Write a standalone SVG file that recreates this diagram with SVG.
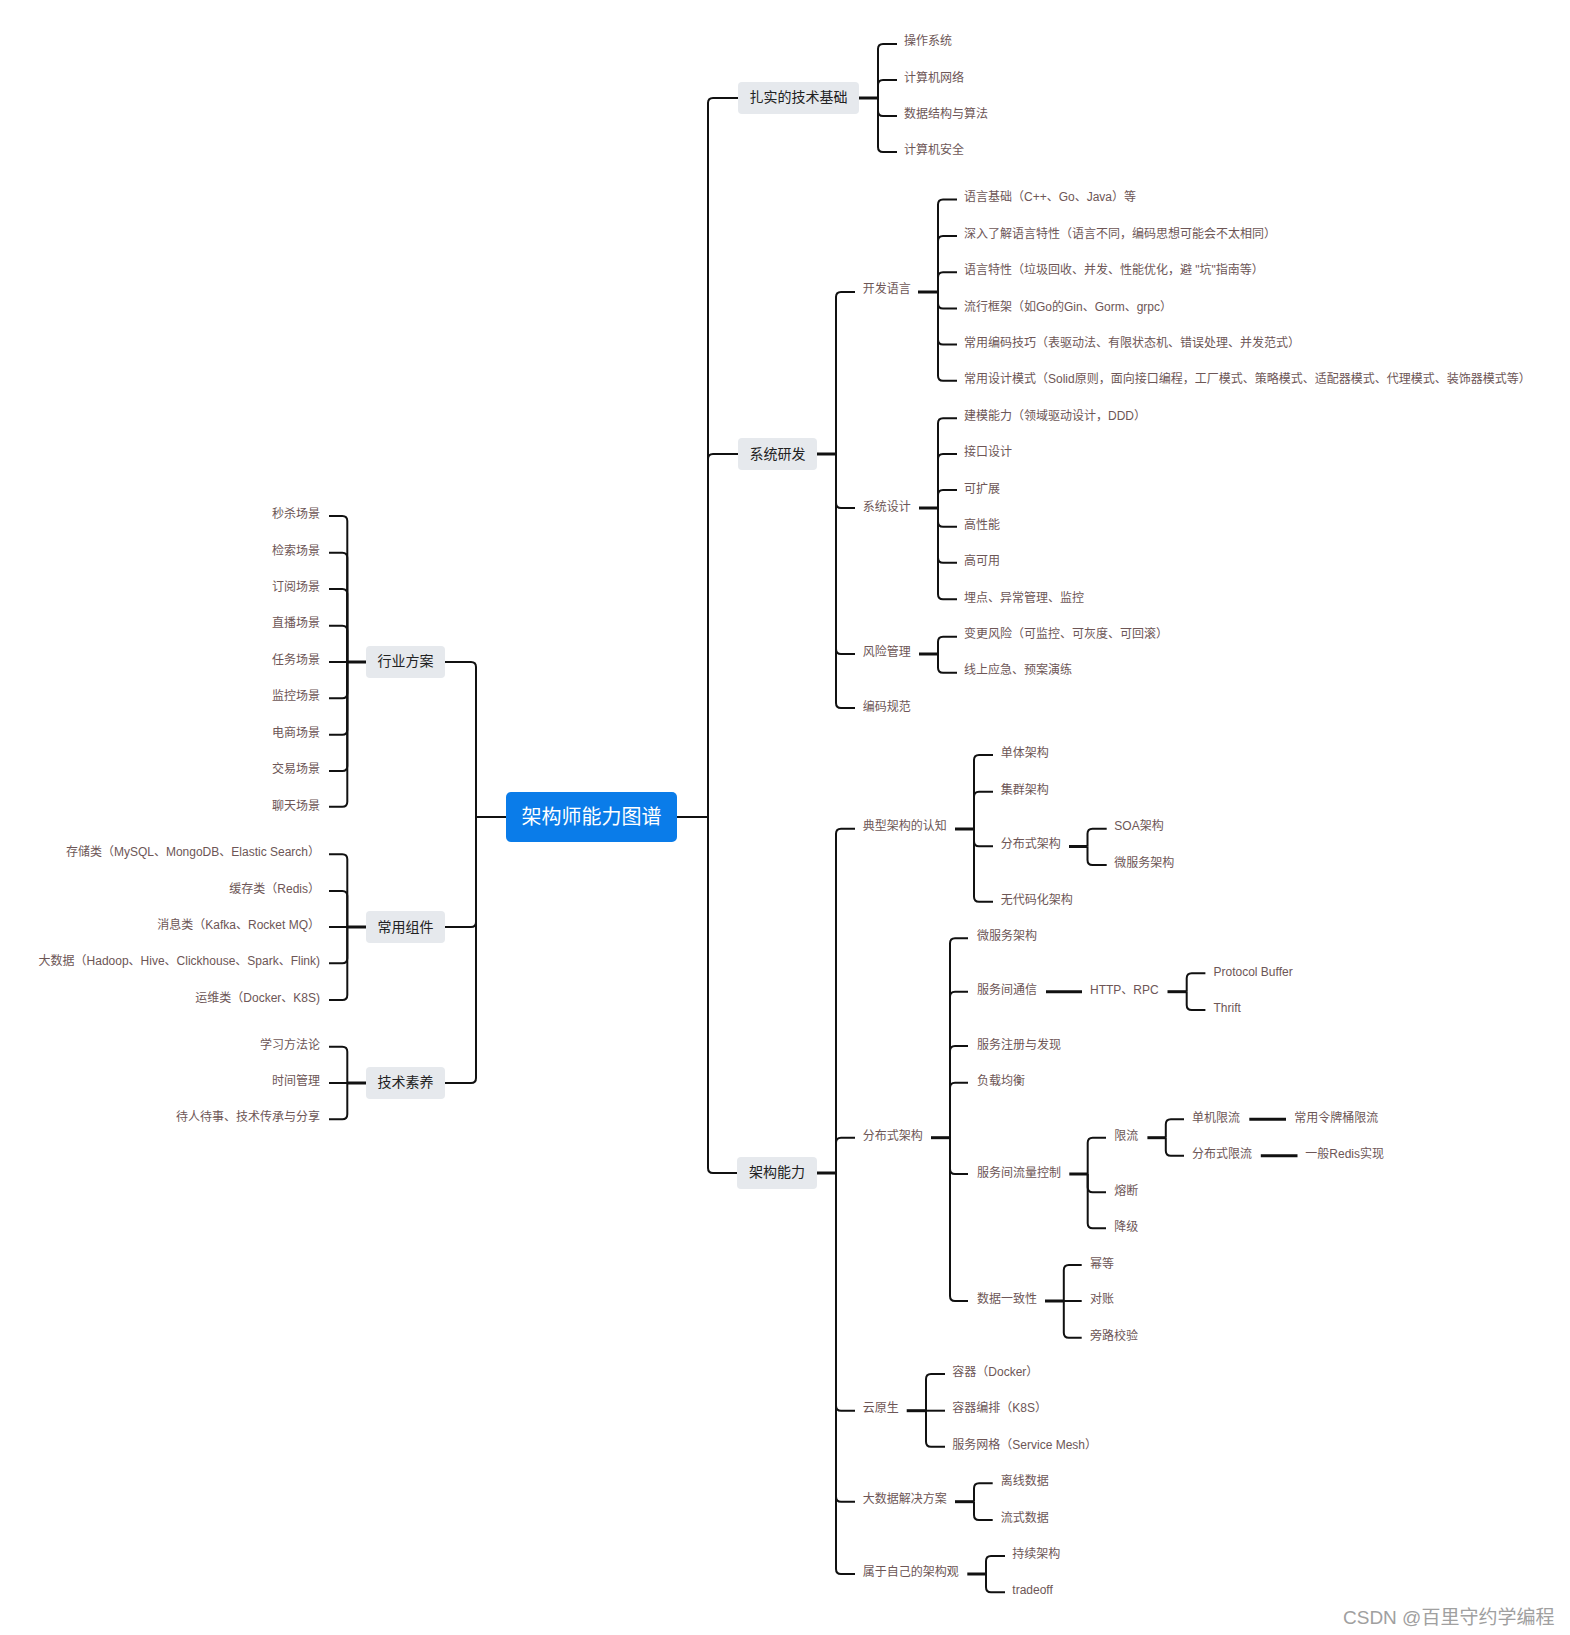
<svg xmlns="http://www.w3.org/2000/svg" width="1570" height="1635" viewBox="0 0 1570 1635">
<style>
.c{fill:none;stroke:#111;stroke-width:2}
.s{fill:none;stroke:#111;stroke-width:3}
.t{font-family:"Liberation Sans","Noto Sans CJK SC",sans-serif;font-size:12px;fill:#6d5656}
.r{text-anchor:end}
.box{fill:#e6e9ed}
.bt{font-family:"Liberation Sans","Noto Sans CJK SC",sans-serif;font-size:14px;fill:#222;text-anchor:middle}
.rt{font-family:"Liberation Sans","Noto Sans CJK SC",sans-serif;font-size:20px;fill:#fff;text-anchor:middle}
.wm{font-family:"Liberation Sans","Noto Sans CJK SC",sans-serif;font-size:19px;fill:#a0a0a0}
</style>
<rect width="1570" height="1635" fill="#fff"/>
<g id="connectors">
<!-- root right -->
<path class="c" d="M677 817H708"/>
<path class="c" d="M708 817V103Q708 98 713 98H738"/>
<path class="c" d="M708 817V459Q708 454 713 454H738"/>
<path class="c" d="M708 817V1168Q708 1173 713 1173H738"/>
<!-- root left -->
<path class="c" d="M506 817H476"/>
<path class="c" d="M476 817V667Q476 662 471 662H445"/>
<path class="c" d="M476 817V922Q476 927 471 927H445"/>
<path class="c" d="M476 817V1078Q476 1083 471 1083H445"/>
<!-- 扎实的技术基础 -->
<path class="s" d="M859 98H878"/>
<path class="c" d="M878 98V49Q878 44 883 44H897"/>
<path class="c" d="M878 98V85Q878 80 883 80H897"/>
<path class="c" d="M878 98V111Q878 116 883 116H897"/>
<path class="c" d="M878 98V147Q878 152 883 152H897"/>
<!-- 系统研发 -->
<path class="s" d="M817 454H836"/>
<path class="c" d="M836 454V297Q836 292 841 292H855"/>
<path class="c" d="M836 454V503Q836 508 841 508H855"/>
<path class="c" d="M836 454V649Q836 654 841 654H855"/>
<path class="c" d="M836 454V703Q836 708 841 708H855"/>
<!-- 开发语言 -->
<path class="s" d="M918 292H938"/>
<path class="c" d="M938 292V204.5Q938 199.5 943 199.5H957"/>
<path class="c" d="M938 292V241Q938 236 943 236H957"/>
<path class="c" d="M938 292V277.3Q938 272.3 943 272.3H957"/>
<path class="c" d="M938 292V303.5Q938 308.5 943 308.5H957"/>
<path class="c" d="M938 292V339.5Q938 344.5 943 344.5H957"/>
<path class="c" d="M938 292V375.7Q938 380.7 943 380.7H957"/>
<!-- 系统设计 -->
<path class="s" d="M919 508H938"/>
<path class="c" d="M938 508V423.3Q938 418.3 943 418.3H957"/>
<path class="c" d="M938 508V459Q938 454 943 454H957"/>
<path class="c" d="M938 508V495Q938 490 943 490H957"/>
<path class="c" d="M938 508V521.7Q938 526.7 943 526.7H957"/>
<path class="c" d="M938 508V557.7Q938 562.7 943 562.7H957"/>
<path class="c" d="M938 508V594.3Q938 599.3 943 599.3H957"/>
<!-- 风险管理 -->
<path class="s" d="M919 654H938"/>
<path class="c" d="M938 654V641.7Q938 636.7 943 636.7H957"/>
<path class="c" d="M938 654V667.7Q938 672.7 943 672.7H957"/>
<!-- 架构能力 -->
<path class="s" d="M817 1173H836"/>
<path class="c" d="M836 1173V833.7Q836 828.7 841 828.7H855"/>
<path class="c" d="M836 1173V1142.7Q836 1137.7 841 1137.7H855"/>
<path class="c" d="M836 1173V1405.7Q836 1410.7 841 1410.7H855"/>
<path class="c" d="M836 1173V1496.7Q836 1501.7 841 1501.7H855"/>
<path class="c" d="M836 1173V1569Q836 1574 841 1574H855"/>
<!-- 典型架构的认知 -->
<path class="s" d="M955 829H974"/>
<path class="c" d="M974 829V760Q974 755 979 755H993"/>
<path class="c" d="M974 829V796.7Q974 791.7 979 791.7H993"/>
<path class="c" d="M974 829V841.3Q974 846.3 979 846.3H993"/>
<path class="c" d="M974 829V896.7Q974 901.7 979 901.7H993"/>
<!-- 分布式架构 (认知) -->
<path class="s" d="M1069 846.5H1087.5"/>
<path class="c" d="M1087.5 846.5V833.7Q1087.5 828.7 1092.5 828.7H1106.7"/>
<path class="c" d="M1087.5 846.5V860Q1087.5 865 1092.5 865H1106.7"/>
<!-- 分布式架构 -->
<path class="s" d="M931 1137.7H950"/>
<path class="c" d="M950 1137.7V943.3Q950 938.3 955 938.3H968"/>
<path class="c" d="M950 1137.7V996.7Q950 991.7 955 991.7H968"/>
<path class="c" d="M950 1137.7V1051Q950 1046 955 1046H968"/>
<path class="c" d="M950 1137.7V1087.7Q950 1082.7 955 1082.7H968"/>
<path class="c" d="M950 1137.7V1169Q950 1174 955 1174H968"/>
<path class="c" d="M950 1137.7V1296Q950 1301 955 1301H968"/>
<!-- 服务间通信 -> HTTP、RPC -->
<path class="s" d="M1046 991.7H1082"/>
<path class="s" d="M1167.5 991.7H1186.7"/>
<path class="c" d="M1186.7 991.7V978.3Q1186.7 973.3 1191.7 973.3H1205.4"/>
<path class="c" d="M1186.7 991.7V1005Q1186.7 1010 1191.7 1010H1205.4"/>
<!-- 服务间流量控制 -->
<path class="s" d="M1069.3 1174H1087.7"/>
<path class="c" d="M1087.7 1174V1142.7Q1087.7 1137.7 1092.7 1137.7H1106"/>
<path class="c" d="M1087.7 1174V1187.3Q1087.7 1192.3 1092.7 1192.3H1106"/>
<path class="c" d="M1087.7 1174V1223.3Q1087.7 1228.3 1092.7 1228.3H1106"/>
<!-- 限流 -->
<path class="s" d="M1147.4 1137.7H1165.8"/>
<path class="c" d="M1165.8 1137.7V1124.3Q1165.8 1119.3 1170.8 1119.3H1184"/>
<path class="c" d="M1165.8 1137.7V1150.7Q1165.8 1155.7 1170.8 1155.7H1184"/>
<path class="s" d="M1249.3 1119.3H1286"/>
<path class="s" d="M1260.8 1155.7H1297.5"/>
<!-- 数据一致性 -->
<path class="s" d="M1045 1301H1063.8"/>
<path class="c" d="M1063.8 1301V1270Q1063.8 1265 1068.8 1265H1081.7"/>
<path class="c" d="M1063.8 1301H1081.7"/>
<path class="c" d="M1063.8 1301V1332.7Q1063.8 1337.7 1068.8 1337.7H1081.7"/>
<!-- 云原生 -->
<path class="s" d="M906.7 1410.7H926"/>
<path class="c" d="M926 1410.7V1379Q926 1374 931 1374H945"/>
<path class="c" d="M926 1410.7H945"/>
<path class="c" d="M926 1410.7V1441.7Q926 1446.7 931 1446.7H945"/>
<!-- 大数据解决方案 -->
<path class="s" d="M955 1501.7H974"/>
<path class="c" d="M974 1501.7V1488.3Q974 1483.3 979 1483.3H992.7"/>
<path class="c" d="M974 1501.7V1515Q974 1520 979 1520H992.7"/>
<!-- 属于自己的架构观 -->
<path class="s" d="M967.3 1574H986"/>
<path class="c" d="M986 1574V1561Q986 1556 991 1556H1005"/>
<path class="c" d="M986 1574V1587.3Q986 1592.3 991 1592.3H1005"/>
<!-- 行业方案 -->
<path class="s" d="M366 662H347.3"/>
<path class="c" d="M347.3 662V521Q347.3 516 342.3 516H329"/>
<path class="c" d="M347.3 662V557.7Q347.3 552.7 342.3 552.7H329"/>
<path class="c" d="M347.3 662V594Q347.3 589 342.3 589H329"/>
<path class="c" d="M347.3 662V630.7Q347.3 625.7 342.3 625.7H329"/>
<path class="c" d="M347.3 662H329"/>
<path class="c" d="M347.3 662V693.3Q347.3 698.3 342.3 698.3H329"/>
<path class="c" d="M347.3 662V729.7Q347.3 734.7 342.3 734.7H329"/>
<path class="c" d="M347.3 662V766Q347.3 771 342.3 771H329"/>
<path class="c" d="M347.3 662V801.7Q347.3 806.7 342.3 806.7H329"/>
<!-- 常用组件 -->
<path class="s" d="M366 927H347.3"/>
<path class="c" d="M347.3 927V859.3Q347.3 854.3 342.3 854.3H329"/>
<path class="c" d="M347.3 927V896Q347.3 891 342.3 891H329"/>
<path class="c" d="M347.3 927H329"/>
<path class="c" d="M347.3 927V958.3Q347.3 963.3 342.3 963.3H329"/>
<path class="c" d="M347.3 927V995Q347.3 1000 342.3 1000H329"/>
<!-- 技术素养 -->
<path class="s" d="M366 1083H347.3"/>
<path class="c" d="M347.3 1083V1051.7Q347.3 1046.7 342.3 1046.7H329"/>
<path class="c" d="M347.3 1083H329"/>
<path class="c" d="M347.3 1083V1114.3Q347.3 1119.3 342.3 1119.3H329"/>
</g>

<g id="n-root"><rect x="506" y="792" width="171" height="50" rx="5" fill="#0a7ce9"/><text class="rt" x="591.5" y="823.6">架构师能力图谱</text></g>

<g id="n-jichu"><rect class="box" x="738" y="82" width="121" height="32" rx="4"/><text class="bt" x="798.5" y="102">扎实的技术基础</text></g>
<g id="n-jichu-1"><text class="t" x="904" y="45">操作系统</text></g>
<g id="n-jichu-2"><text class="t" x="904" y="82">计算机网络</text></g>
<g id="n-jichu-3"><text class="t" x="904" y="117.5">数据结构与算法</text></g>
<g id="n-jichu-4"><text class="t" x="904" y="154">计算机安全</text></g>

<g id="n-yanfa"><rect class="box" x="738" y="438" width="79" height="32" rx="4"/><text class="bt" x="777.5" y="458.5">系统研发</text></g>
<g id="n-kaifa"><text class="t" x="862.7" y="293">开发语言</text></g>
<g id="n-kaifa-1"><text class="t" x="964" y="201">语言基础（C++、Go、Java）等</text></g>
<g id="n-kaifa-2"><text class="t" x="964" y="238">深入了解语言特性（语言不同，编码思想可能会不太相同）</text></g>
<g id="n-kaifa-3"><text class="t" x="964" y="274.3">语言特性（垃圾回收、并发、性能优化，避 "坑"指南等）</text></g>
<g id="n-kaifa-4"><text class="t" x="964" y="310.5">流行框架（如Go的Gin、Gorm、grpc）</text></g>
<g id="n-kaifa-5"><text class="t" x="964" y="346.5">常用编码技巧（表驱动法、有限状态机、错误处理、并发范式）</text></g>
<g id="n-kaifa-6"><text class="t" x="964" y="382.7">常用设计模式（Solid原则，面向接口编程，工厂模式、策略模式、适配器模式、代理模式、装饰器模式等）</text></g>
<g id="n-sheji"><text class="t" x="862.7" y="511">系统设计</text></g>
<g id="n-sheji-1"><text class="t" x="964" y="419.8">建模能力（领域驱动设计，DDD）</text></g>
<g id="n-sheji-2"><text class="t" x="964" y="456">接口设计</text></g>
<g id="n-sheji-3"><text class="t" x="964" y="492.5">可扩展</text></g>
<g id="n-sheji-4"><text class="t" x="964" y="529">高性能</text></g>
<g id="n-sheji-5"><text class="t" x="964" y="565">高可用</text></g>
<g id="n-sheji-6"><text class="t" x="964" y="601.5">埋点、异常管理、监控</text></g>
<g id="n-fengxian"><text class="t" x="862.7" y="656">风险管理</text></g>
<g id="n-fengxian-1"><text class="t" x="964" y="638.2">变更风险（可监控、可灰度、可回滚）</text></g>
<g id="n-fengxian-2"><text class="t" x="964" y="674.2">线上应急、预案演练</text></g>
<g id="n-guifan"><text class="t" x="862.7" y="710.5">编码规范</text></g>

<g id="n-nengli"><rect class="box" x="737" y="1157" width="80" height="32" rx="4"/><text class="bt" x="777" y="1177">架构能力</text></g>
<g id="n-renzhi"><text class="t" x="862.7" y="830.2">典型架构的认知</text></g>
<g id="n-renzhi-1"><text class="t" x="1000.7" y="757">单体架构</text></g>
<g id="n-renzhi-2"><text class="t" x="1000.7" y="793.7">集群架构</text></g>
<g id="n-renzhi-3"><text class="t" x="1000.7" y="848.3">分布式架构</text></g>
<g id="n-renzhi-3-1"><text class="t" x="1114.3" y="830.2">SOA架构</text></g>
<g id="n-renzhi-3-2"><text class="t" x="1114.3" y="867">微服务架构</text></g>
<g id="n-renzhi-4"><text class="t" x="1000.7" y="903.5">无代码化架构</text></g>

<g id="n-fbs"><text class="t" x="862.7" y="1139.5">分布式架构</text></g>
<g id="n-fbs-1"><text class="t" x="977" y="939.8">微服务架构</text></g>
<g id="n-fbs-2"><text class="t" x="977" y="994">服务间通信</text></g>
<g id="n-http"><text class="t" x="1090" y="994">HTTP、RPC</text></g>
<g id="n-http-1"><text class="t" x="1213.5" y="975.5">Protocol Buffer</text></g>
<g id="n-http-2"><text class="t" x="1213.5" y="1011.5">Thrift</text></g>
<g id="n-fbs-3"><text class="t" x="977" y="1048.5">服务注册与发现</text></g>
<g id="n-fbs-4"><text class="t" x="977" y="1085">负载均衡</text></g>
<g id="n-fbs-5"><text class="t" x="977" y="1176.5">服务间流量控制</text></g>
<g id="n-xianliu"><text class="t" x="1114.3" y="1139.5">限流</text></g>
<g id="n-danji"><text class="t" x="1192" y="1121.5">单机限流</text></g>
<g id="n-lingpai"><text class="t" x="1294.3" y="1121.5">常用令牌桶限流</text></g>
<g id="n-fbsxl"><text class="t" x="1192" y="1158">分布式限流</text></g>
<g id="n-redis"><text class="t" x="1305.3" y="1158">一般Redis实现</text></g>
<g id="n-rongduan"><text class="t" x="1114.3" y="1194.5">熔断</text></g>
<g id="n-jiangji"><text class="t" x="1114.3" y="1230.5">降级</text></g>
<g id="n-fbs-6"><text class="t" x="977" y="1303">数据一致性</text></g>
<g id="n-mideng"><text class="t" x="1090" y="1267.5">幂等</text></g>
<g id="n-duizhang"><text class="t" x="1090" y="1303">对账</text></g>
<g id="n-panglu"><text class="t" x="1090" y="1340">旁路校验</text></g>

<g id="n-yunyuan"><text class="t" x="862.7" y="1412.2">云原生</text></g>
<g id="n-yunyuan-1"><text class="t" x="952.3" y="1375.5">容器（Docker）</text></g>
<g id="n-yunyuan-2"><text class="t" x="952.3" y="1412.2">容器编排（K8S）</text></g>
<g id="n-yunyuan-3"><text class="t" x="952.3" y="1449">服务网格（Service Mesh）</text></g>
<g id="n-dashuju"><text class="t" x="862.7" y="1503.2">大数据解决方案</text></g>
<g id="n-dashuju-1"><text class="t" x="1000.7" y="1484.8">离线数据</text></g>
<g id="n-dashuju-2"><text class="t" x="1000.7" y="1521.5">流式数据</text></g>
<g id="n-guan"><text class="t" x="862.7" y="1575.5">属于自己的架构观</text></g>
<g id="n-guan-1"><text class="t" x="1012.3" y="1557.5">持续架构</text></g>
<g id="n-guan-2"><text class="t" x="1012.3" y="1593.8">tradeoff</text></g>

<g id="n-hangye"><rect class="box" x="366" y="646" width="79" height="32" rx="4"/><text class="bt" x="405.5" y="666">行业方案</text></g>
<g id="n-hangye-1"><text class="t r" x="320" y="518">秒杀场景</text></g>
<g id="n-hangye-2"><text class="t r" x="320" y="555">检索场景</text></g>
<g id="n-hangye-3"><text class="t r" x="320" y="590.5">订阅场景</text></g>
<g id="n-hangye-4"><text class="t r" x="320" y="627.2">直播场景</text></g>
<g id="n-hangye-5"><text class="t r" x="320" y="663.8">任务场景</text></g>
<g id="n-hangye-6"><text class="t r" x="320" y="700.3">监控场景</text></g>
<g id="n-hangye-7"><text class="t r" x="320" y="737">电商场景</text></g>
<g id="n-hangye-8"><text class="t r" x="320" y="772.5">交易场景</text></g>
<g id="n-hangye-9"><text class="t r" x="320" y="809.5">聊天场景</text></g>

<g id="n-zujian"><rect class="box" x="366" y="911" width="79" height="32" rx="4"/><text class="bt" x="405.5" y="931.5">常用组件</text></g>
<g id="n-zujian-1"><text class="t r" x="320" y="855.8">存储类（MySQL、MongoDB、Elastic Search）</text></g>
<g id="n-zujian-2"><text class="t r" x="320" y="892.5">缓存类（Redis）</text></g>
<g id="n-zujian-3"><text class="t r" x="320" y="929.3">消息类（Kafka、Rocket MQ）</text></g>
<g id="n-zujian-4"><text class="t r" x="320" y="965.3">大数据（Hadoop、Hive、Clickhouse、Spark、Flink)</text></g>
<g id="n-zujian-5"><text class="t r" x="320" y="1002">运维类（Docker、K8S)</text></g>

<g id="n-suyang"><rect class="box" x="366" y="1067" width="79" height="32" rx="4"/><text class="bt" x="405.5" y="1087">技术素养</text></g>
<g id="n-suyang-1"><text class="t r" x="320" y="1048.7">学习方法论</text></g>
<g id="n-suyang-2"><text class="t r" x="320" y="1084.7">时间管理</text></g>
<g id="n-suyang-3"><text class="t r" x="320" y="1121.3">待人待事、技术传承与分享</text></g>

<text class="wm" x="1343" y="1624">CSDN @百里守约学编程</text>
</svg>
